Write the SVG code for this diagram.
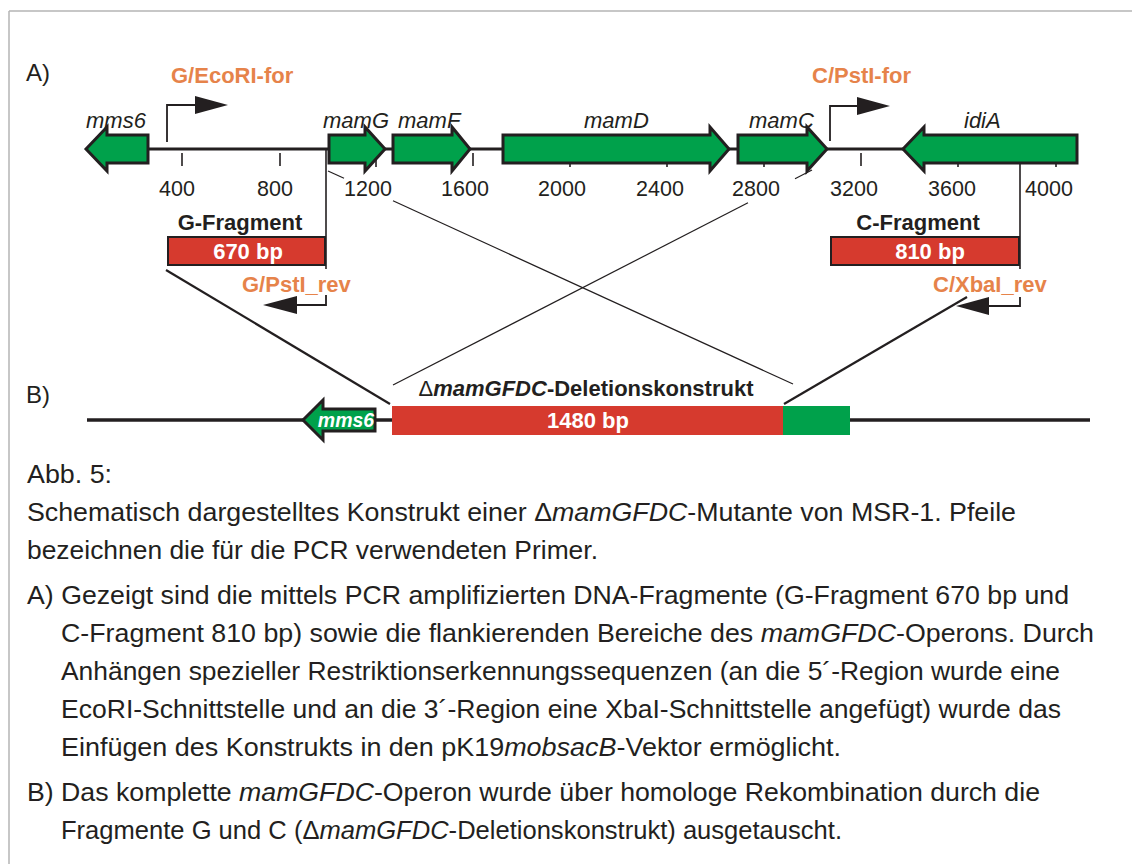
<svg xmlns="http://www.w3.org/2000/svg" width="1132" height="864" viewBox="0 0 1132 864">
  <style>
    .lbl { font-family: "Liberation Sans", Arial, sans-serif; fill: #231f20; }
    .panel { font-size: 24px; }
    .tick-lbl { font-size: 21.5px; text-anchor: middle; }
    .gene-lbl { font-size: 22px; font-style: italic; }
    .primer { font-size: 22px; font-weight: bold; fill: #e6834a; }
    .frag { font-size: 22px; font-weight: bold; text-anchor: middle; }
    .bp { font-size: 22px; font-weight: bold; fill: #ffffff; text-anchor: middle; }
    .gene-in { font-size: 19.5px; font-weight: bold; font-style: italic; fill: #ffffff; text-anchor: middle; }
    .gene { fill: #00a14b; stroke: #231f20; stroke-width: 3; stroke-linejoin: miter; }
    .axis { stroke: #231f20; stroke-width: 3; fill: none; }
    .tick { stroke: #231f20; stroke-width: 1.6; }
    .bracket { stroke: #231f20; stroke-width: 1.8; fill: none; }
    .head { fill: #231f20; }
    .cap { font-family: "Liberation Sans", Arial, sans-serif; font-size: 25.5px; fill: #231f20; }
    .it { font-style: italic; }
  </style>

  <!-- frame -->
  <g id="frame" stroke="#b5b5b5" stroke-width="1.5" fill="none">
    <line x1="9" y1="11" x2="1132" y2="11"/>
    <line x1="9" y1="11" x2="9" y2="864"/>
  </g>

  <!-- panel labels -->
  <text class="lbl panel" x="26" y="81">A)</text>
  <text class="lbl panel" x="26" y="403">B)</text>

  <!-- scale ticks -->
  <g id="ticks" class="tick">
    <line x1="182" y1="153" x2="182" y2="166"/>
    <line x1="280" y1="153" x2="280" y2="166"/>
    <line x1="376" y1="153" x2="376" y2="167"/>
    <line x1="473" y1="153" x2="473" y2="166"/>
    <line x1="570" y1="153" x2="570" y2="167"/>
    <line x1="667" y1="153" x2="667" y2="167"/>
    <line x1="764" y1="153" x2="764" y2="167"/>
    <line x1="861" y1="153" x2="861" y2="166"/>
    <line x1="958" y1="153" x2="958" y2="167"/>
    <line x1="1056" y1="153" x2="1056" y2="167"/>
  </g>

  <!-- connectors -->
  <g id="connectors">
    <!-- genomic backbone -->
    <line class="axis" x1="148" y1="149" x2="903" y2="149"/>
    <!-- fragment borders -->
    <line class="tick" x1="326" y1="150" x2="326" y2="269"/>
    <line class="tick" x1="1020" y1="164" x2="1020" y2="269"/>
    <!-- crossover lines -->
    <g stroke="#231f20" stroke-width="1.2">
      <line x1="328" y1="171" x2="344" y2="178.3"/>
      <line x1="393" y1="200.8" x2="793" y2="384"/>
      <line x1="812" y1="170" x2="795" y2="178.7"/>
      <line x1="748" y1="202.8" x2="393" y2="385"/>
    </g>
    <g stroke="#231f20" stroke-width="2.2">
      <line x1="166" y1="270" x2="390" y2="404"/>
      <line x1="967" y1="297" x2="784" y2="404"/>
    </g>
    <!-- construct backbone -->
    <line x1="87" y1="420" x2="1090" y2="420" stroke="#231f20" stroke-width="3.5"/>
  </g>

  <!-- tick labels -->
  <g id="tick-labels" class="lbl tick-lbl">
    <text x="177" y="196">400</text>
    <text x="275" y="196">800</text>
    <text x="368" y="196">1200</text>
    <text x="465" y="196">1600</text>
    <text x="562" y="196">2000</text>
    <text x="660" y="196">2400</text>
    <text x="756" y="196">2800</text>
    <text x="854" y="196">3200</text>
    <text x="952" y="196">3600</text>
    <text x="1049" y="196">4000</text>
  </g>

  <!-- genes -->
  <g id="mms6">
    <polygon class="gene" points="86,149 107,127 107,135 148,135 148,163 107,163 107,171"/>
    <text class="lbl gene-lbl" x="86" y="128">mms6</text>
  </g>
  <g id="mamG">
    <polygon class="gene" points="329,135 365,135 365,127 385,149 365,171 365,163 329,163"/>
    <text class="lbl gene-lbl" x="323" y="128">mamG</text>
  </g>
  <g id="mamF">
    <polygon class="gene" points="393,135 452,135 452,127 470,149 452,171 452,163 393,163"/>
    <text class="lbl gene-lbl" x="398" y="128">mamF</text>
  </g>
  <g id="mamD">
    <polygon class="gene" points="503,135 710,135 710,127 729,149 710,171 710,163 503,163"/>
    <text class="lbl gene-lbl" x="584" y="128">mamD</text>
  </g>
  <g id="mamC">
    <polygon class="gene" points="738,135 807,135 807,127 827,149 807,171 807,163 738,163"/>
    <text class="lbl gene-lbl" x="749" y="128">mamC</text>
  </g>
  <g id="idiA">
    <polygon class="gene" points="903,149 924,127 924,135 1077,135 1077,163 924,163 924,171"/>
    <text class="lbl gene-lbl" x="964" y="128">idiA</text>
  </g>

  <!-- primers -->
  <g id="primer-G-EcoRI-for">
    <polyline class="bracket" points="167,142 167,105 196,105"/>
    <polygon class="head" points="195,96 228,105 195,114"/>
    <text class="lbl primer" x="171" y="83">G/EcoRI-for</text>
  </g>
  <g id="primer-C-PstI-for">
    <polyline class="bracket" points="830,141 830,106 858,106"/>
    <polygon class="head" points="857,97 890,106 857,115"/>
    <text class="lbl primer" x="812" y="83">C/PstI-for</text>
  </g>
  <g id="primer-G-PstI-rev">
    <polyline class="bracket" points="326,295 326,305 296,305"/>
    <polygon class="head" points="297,296 263,305 297,314"/>
    <text class="lbl primer" x="242" y="292">G/PstI_rev</text>
  </g>
  <g id="primer-C-XbaI-rev">
    <polyline class="bracket" points="1020,297 1020,306 988,306"/>
    <polygon class="head" points="989,297 956,306 989,315"/>
    <text class="lbl primer" x="933" y="292">C/XbaI_rev</text>
  </g>

  <!-- PCR fragments -->
  <g id="g-fragment">
    <text class="lbl frag" x="240" y="230">G-Fragment</text>
    <rect x="168" y="237" width="157" height="28" fill="#d63a2e" stroke="#231f20" stroke-width="2"/>
    <text class="lbl bp" x="248" y="259">670 bp</text>
  </g>
  <g id="c-fragment">
    <text class="lbl frag" x="918" y="230">C-Fragment</text>
    <rect x="831" y="237" width="188" height="28" fill="#d63a2e" stroke="#231f20" stroke-width="2"/>
    <text class="lbl bp" x="930" y="259">810 bp</text>
  </g>

  <!-- deletion construct -->
  <g id="construct">
    <text class="lbl frag" x="586" y="396"><tspan font-weight="normal">Δ</tspan><tspan font-style="italic">mamGFDC</tspan>-Deletionskonstrukt</text>
    <rect x="392" y="406" width="391" height="29" fill="#d63a2e"/>
    <rect x="783" y="406" width="67" height="29" fill="#00a14b"/>
    <text class="lbl bp" x="588" y="428">1480 bp</text>
  </g>
  <g id="mms6-b">
    <polygon class="gene" stroke-width="2.5" points="303,420 323,400 323,409 375,409 375,431 323,431 323,440"/>
    <text class="lbl gene-in" x="346" y="427">mms6</text>
  </g>

  <!-- caption -->
  <g id="caption" class="cap">
    <text x="27" y="483" textLength="85" lengthAdjust="spacingAndGlyphs">Abb. 5:</text>
    <text x="27" y="521" textLength="989" lengthAdjust="spacingAndGlyphs">Schematisch dargestelltes Konstrukt einer Δ<tspan class="it">mamGFDC</tspan>-Mutante von MSR-1. Pfeile</text>
    <text x="27" y="559" textLength="571" lengthAdjust="spacingAndGlyphs">bezeichnen die für die PCR verwendeten Primer.</text>
    <text x="27" y="604" textLength="1042" lengthAdjust="spacingAndGlyphs">A) Gezeigt sind die mittels PCR amplifizierten DNA-Fragmente (G-Fragment 670 bp und</text>
    <text x="61" y="642" textLength="1033" lengthAdjust="spacingAndGlyphs">C-Fragment 810 bp) sowie die flankierenden Bereiche des <tspan class="it">mamGFDC</tspan>-Operons. Durch</text>
    <text x="61" y="680" textLength="999" lengthAdjust="spacingAndGlyphs">Anhängen spezieller Restriktionserkennungssequenzen (an die 5´-Region wurde eine</text>
    <text x="61" y="718" textLength="1000" lengthAdjust="spacingAndGlyphs">EcoRI-Schnittstelle und an die 3´-Region eine XbaI-Schnittstelle angefügt) wurde das</text>
    <text x="61" y="756" textLength="780" lengthAdjust="spacingAndGlyphs">Einfügen des Konstrukts in den pK19<tspan class="it">mobsacB</tspan>-Vektor ermöglicht.</text>
    <text x="27" y="801" textLength="1013" lengthAdjust="spacingAndGlyphs">B) Das komplette <tspan class="it">mamGFDC</tspan>-Operon wurde über homologe Rekombination durch die</text>
    <text x="61" y="839" textLength="781" lengthAdjust="spacingAndGlyphs">Fragmente G und C (Δ<tspan class="it">mamGFDC</tspan>-Deletionskonstrukt) ausgetauscht.</text>
  </g>
</svg>
